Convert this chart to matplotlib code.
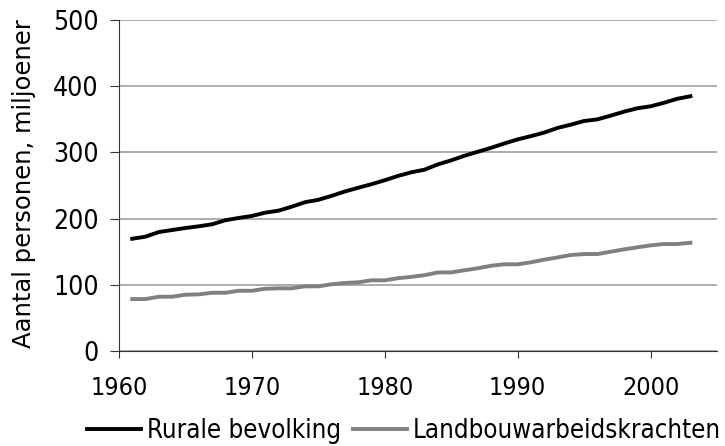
import matplotlib.pyplot as plt
from matplotlib import font_manager

years = list(range(1961, 2004))

rurale = [169.6, 172.7, 179.7, 182.8, 185.8, 188.4, 191.4, 197.5, 201, 204,
          209, 212, 218, 224.8, 228.4, 234.4, 241, 246.6, 252, 258,
          264.5, 270, 274, 282, 288, 295, 301, 307, 313.6, 319.7,
          324.7, 330, 337, 342, 347.5, 350, 355.6, 361.6, 366.7, 369.7,
          375, 381, 385]

landbouw = [78.5, 78.5, 82, 82, 85, 85.6, 88, 88, 91, 91,
            94, 94.7, 94.7, 97.7, 97.7, 100.8, 102.8, 103.8, 106.8, 106.8,
            110, 112, 114.6, 118.7, 118.7, 122, 125, 128.8, 131, 131,
            134, 138, 141.4, 145, 146.5, 146.5, 150, 153.5, 156.6, 159.6,
            161.6, 161.6, 163.6]

xticks = [1960, 1970, 1980, 1990, 2000]
yticks = [0, 100, 200, 300, 400, 500]

xtick_prop = font_manager.FontProperties(family='DejaVu Sans', stretch='condensed', size=18)
ytick_prop = font_manager.FontProperties(family='DejaVu Sans', stretch='condensed', size=19)
leg_prop = font_manager.FontProperties(family='DejaVu Sans', stretch='condensed', size=18.5)

fig = plt.figure(figsize=(7.25, 4.46), dpi=100)
ax = fig.add_axes([0.164, 0.213, 0.825, 0.742])

ax.plot(years, rurale, color='black', linewidth=2.8, label='Rurale bevolking')
ax.plot(years, landbouw, color='#808080', linewidth=2.8, label='Landbouwarbeidskrachten')

ax.set_xlim(1960, 2005)
ax.set_ylim(0, 500)
ax.set_xticks(xticks)
ax.set_yticks(yticks)
ax.grid(axis='y', color='#a6a6a6', linewidth=1.3)
ax.set_axisbelow(True)

for side in ['top', 'right']:
    ax.spines[side].set_visible(False)
for side in ['left', 'bottom']:
    ax.spines[side].set_color('#333333')

ax.tick_params(axis='x', length=5, color='#333333', pad=13)
ax.tick_params(axis='y', length=6.5, color='#333333', pad=8)
for lbl in ax.get_xticklabels():
    lbl.set_fontproperties(xtick_prop)
for lbl in ax.get_yticklabels():
    lbl.set_fontproperties(ytick_prop)

fig.text(24 / 725, 0.589, 'Aantal personen, miljoener', rotation=90,
         ha='center', va='center', fontsize=17.5, family='DejaVu Sans')

fig.legend(loc='center', bbox_to_anchor=(0.557, 0.033), ncol=2, frameon=False,
           handlelength=2.1, handletextpad=0.23, columnspacing=0.47,
           borderpad=0, prop=leg_prop)

fig.savefig('out.png', dpi=100)
